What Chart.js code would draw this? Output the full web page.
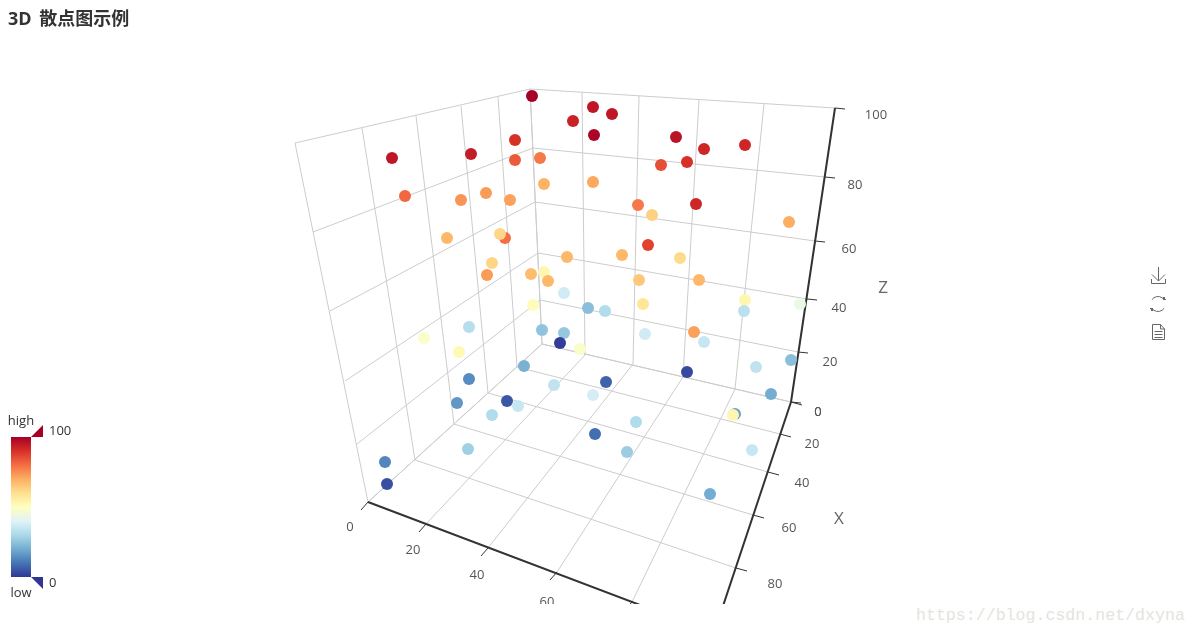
<!DOCTYPE html>
<html>
<head>
<meta charset="utf-8">
<title>3D 散点图示例</title>
<script src="https://cdn.jsdelivr.net/npm/chart.js@4/dist/chart.umd.js"></script>
<style>
    html, body { margin: 0; padding: 0; background: #fff; overflow: hidden; }
    #box { position: relative; width: 1196px; height: 635px; }
    canvas { position: absolute; left: 0; top: 0; }
    #mark { position: absolute; left: 916px; top: 606px; font: 16.6px "Liberation Mono", monospace; color: #e4e4dd; }
</style>
</head>
<body>
<div id="box">
    <canvas id="chart" width="1196" height="604"></canvas>
    <div id="mark">https://blog.csdn.net/dxyna</div>
</div>
<script>
var pointX = [532,573,515,471,392,515,540,405,544,486,461,510,447,505,500,492,487,567,531,544,548,564,533,469,424,542,564,560,459,580,
    593,612,594,676,704,745,661,687,593,638,696,652,789,648,622,680,639,699,643,745,800,744,588,605,645,694,704,
    524,469,457,507,518,492,468,385,387,554,593,595,606,687,771,791,756,636,627,710,752,735,733];
var pointY = [96,121,140,154,158,160,158,196,184,193,200,200,238,238,234,263,275,257,274,272,281,293,305,327,338,330,333,343,352,349,
    107,114,135,137,149,145,165,162,182,205,204,215,222,245,255,258,280,280,304,300,304,311,308,311,334,332,342,
    366,379,403,401,406,415,449,462,484,385,395,434,382,372,394,360,367,422,452,494,450,414,415];
var pointValue = [100,93,90,94,95,83,78,81,69,73,74,72,68,80,62,62,73,68,67,53,68,37,51,32,48,25,26,1,52,48,
    95,95,99,96,92,92,85,90,71,78,92,63,70,87,68,61,65,68,58,53,44,33,24,31,37,72,35,
    21,14,16,5,35,31,28,13,4,34,38,9,7,3,20,24,34,31,27,20,35,18,53];

// box edges, six stops each (0, 20 ... 100)
var leftTop = [[295,143],[362,128],[416,116],[461,106],[498,97],[530,89]];
var leftFloor = [[368,502],[415,460],[454,424],[488,393],[517,367],[542,344]];
var leftEdge = [[368,502],[357,444],[345,381],[330,311],[313,232],[295,143]];
var backEdge = [[542,344],[540,300],[538,253],[535,202],[533,148],[530,89]];
var backTop = [[530,89],[582,93],[639,96],[699,100],[764,104],[835,108]];
var backFloor = [[542,344],[585,355],[633,364],[683,377],[735,389],[791,402]];
var zAxis = [[791,402],[798,352],[807,299],[815,241],[825,177],[835,108]];
var frontAxis = [[368,502],[426,524],[488,548],[557,572],[632,602],[714,633]];
var rightAxis = [[791,402],[780,434],[768,472],[753,515],[736,568],[714,633]];

var zTickLabels = ['0','20','40','60','80','100'];
var zLabelAt = [[818,412],[830,362],[839,308],[849,249],[855,185],[876,115]];
var xTickLabels = ['0','20','40','60','80'];
var xLabelAt = [[818,412],[812,444],[802,483],[789,528],[775,584]];
var yTickLabels = ['0','20','40','60'];
var yLabelAt = [[350,527],[413,550],[477,575],[547,602]];

var rampColors = ['#313695','#4575b4','#74add1','#abd9e9','#e0f3f8','#ffffbf','#fee090','#fdae61','#f46d43','#d73027','#a50026'];

var hexRgb = function(hex) {
    return [parseInt(hex.substr(1,2),16), parseInt(hex.substr(3,2),16), parseInt(hex.substr(5,2),16)];
}

var valueColor = function(v) {
    let pos = v / 100 * (rampColors.length - 1);
    let i = Math.min(Math.floor(pos), rampColors.length - 2);
    let a = hexRgb(rampColors[i]);
    let b = hexRgb(rampColors[i + 1]);
    let t = pos - i;
    return `rgb(${Math.round(a[0]+(b[0]-a[0])*t)}, ${Math.round(a[1]+(b[1]-a[1])*t)}, ${Math.round(a[2]+(b[2]-a[2])*t)})`;
}

// turns pairs of stops into one dataset with gaps between the segments
var segments = function(from, to) {
    let out = [];
    for (let i = 0; i < from.length; i++) {
        out.push({x: from[i][0], y: from[i][1]});
        out.push({x: to[i][0], y: to[i][1]});
        out.push({x: from[i][0], y: null});
    }
    return out;
}

var shifted = function(list, dx, dy) {
    return list.map(p => [p[0] + dx, p[1] + dy]);
}

var gridData = [].concat(
    segments(leftTop, leftFloor),
    segments(leftEdge, backEdge),
    segments(backTop, backFloor),
    segments(backEdge, zAxis),
    segments(frontAxis, backFloor),
    segments(leftFloor.slice().reverse(), rightAxis)
);

var tickData = [].concat(
    segments(zAxis, shifted(zAxis, 10, 1)),
    segments(rightAxis, shifted(rightAxis, 11, 3)),
    segments(frontAxis, shifted(frontAxis, -7, 8))
);

var lineSet = function(data, color, width, order) {
    return {
        data: data,
        showLine: true,
        spanGaps: false,
        borderColor: color,
        borderWidth: width,
        pointRadius: 0,
        pointHoverRadius: 0,
        order: order
    };
}

var putLabels = function(ctx, labels, at) {
    for (let i = 0; i < labels.length; i++) {
        ctx.fillText(labels[i], at[i][0], at[i][1]);
    }
}

var drawIcons = function(ctx) {
    ctx.strokeStyle = '#666';
    ctx.lineWidth = 1;
    ctx.beginPath();
    ctx.moveTo(1158.5,267); ctx.lineTo(1158.5,281);
    ctx.moveTo(1152,274.5); ctx.lineTo(1158.5,281); ctx.lineTo(1165,274.5);
    ctx.moveTo(1151.5,279); ctx.lineTo(1151.5,283.5); ctx.lineTo(1165.5,283.5); ctx.lineTo(1165.5,279);
    ctx.stroke();

    ctx.beginPath();
    ctx.arc(1158,304,7.5,3.75,5.6);
    ctx.stroke();
    ctx.beginPath();
    ctx.arc(1158,304,7.5,0.6,2.55);
    ctx.stroke();
    ctx.fillStyle = '#666';
    ctx.fillRect(1163,297,2,3);
    ctx.fillRect(1163,299,3,1);
    ctx.fillRect(1151,308,2,3);
    ctx.fillRect(1150,308,3,1);

    ctx.beginPath();
    ctx.moveTo(1152.5,324.5); ctx.lineTo(1160.5,324.5); ctx.lineTo(1164.5,329); ctx.lineTo(1164.5,339.5); ctx.lineTo(1152.5,339.5); ctx.closePath();
    ctx.moveTo(1160.5,324.5); ctx.lineTo(1160.5,329); ctx.lineTo(1164.5,329);
    ctx.moveTo(1154.5,331.5); ctx.lineTo(1162.5,331.5);
    ctx.moveTo(1154.5,334.5); ctx.lineTo(1162.5,334.5);
    ctx.moveTo(1154.5,337.5); ctx.lineTo(1162.5,337.5);
    ctx.stroke();
}

var decorations = {
    id: 'decorations',
    afterDraw: function(chart) {
        let ctx = chart.ctx;
        ctx.save();

        ctx.textBaseline = 'alphabetic';
        ctx.textAlign = 'left';
        ctx.fillStyle = '#333';
        ctx.font = 'bold 18px "Open Sans", "Noto Sans CJK SC", sans-serif';
        ctx.wordSpacing = '3px';
        ctx.fillText('3D 散点图示例', 8, 25);
        ctx.wordSpacing = '0px';

        ctx.textBaseline = 'middle';
        ctx.textAlign = 'center';
        ctx.fillStyle = '#555';
        ctx.font = '13px "Open Sans", sans-serif';
        putLabels(ctx, zTickLabels, zLabelAt);
        putLabels(ctx, xTickLabels, xLabelAt);
        putLabels(ctx, yTickLabels, yLabelAt);

        ctx.fillStyle = '#666';
        ctx.font = '17px "Open Sans", sans-serif';
        ctx.fillText('Z', 883, 288);
        ctx.fillText('X', 839, 519);

        // visual map on the left
        let grad = ctx.createLinearGradient(0, 577, 0, 437);
        rampColors.forEach(function(c, i) {
            grad.addColorStop(i / (rampColors.length - 1), c);
        });
        ctx.fillStyle = grad;
        ctx.fillRect(11, 437, 20, 140);

        ctx.fillStyle = rampColors[10];
        ctx.beginPath();
        ctx.moveTo(31,437); ctx.lineTo(43,425); ctx.lineTo(43,437); ctx.closePath();
        ctx.fill();
        ctx.fillStyle = rampColors[0];
        ctx.beginPath();
        ctx.moveTo(31,577); ctx.lineTo(43,577); ctx.lineTo(43,589); ctx.closePath();
        ctx.fill();

        ctx.fillStyle = '#333';
        ctx.font = '13px "Open Sans", sans-serif';
        ctx.fillText('high', 21, 421);
        ctx.fillText('low', 21, 593);
        ctx.textAlign = 'left';
        ctx.fillText('100', 49, 431);
        ctx.fillText('0', 49, 583);

        drawIcons(ctx);
        ctx.restore();
    }
};

var points = [];
for (let i = 0; i < pointX.length; i++) {
    points.push({x: pointX[i], y: pointY[i]});
}

var config = {
    type: 'scatter',
    data: {
        datasets: [
            {
                data: points,
                backgroundColor: pointValue.map(valueColor),
                borderWidth: 0,
                pointRadius: 6,
                order: 0
            },
            lineSet([].concat(segments([zAxis[0]], [zAxis[5]]), segments([frontAxis[0]], [frontAxis[5]]), segments([rightAxis[0]], [rightAxis[5]])), '#333', 2, 1),
            lineSet(tickData, '#333', 1, 2),
            lineSet(gridData, '#ccc', 1, 3)
        ]
    },
    options: {
        responsive: false,
        animation: false,
        layout: { padding: 0, autoPadding: false },
        plugins: { legend: { display: false }, tooltip: { enabled: false } },
        scales: {
            x: { type: 'linear', min: 0, max: 1196, display: false },
            y: { type: 'linear', min: 0, max: 604, reverse: true, display: false }
        }
    },
    plugins: [decorations]
};

var myChart = new Chart(document.getElementById('chart'), config);
</script>
</body>
</html>
